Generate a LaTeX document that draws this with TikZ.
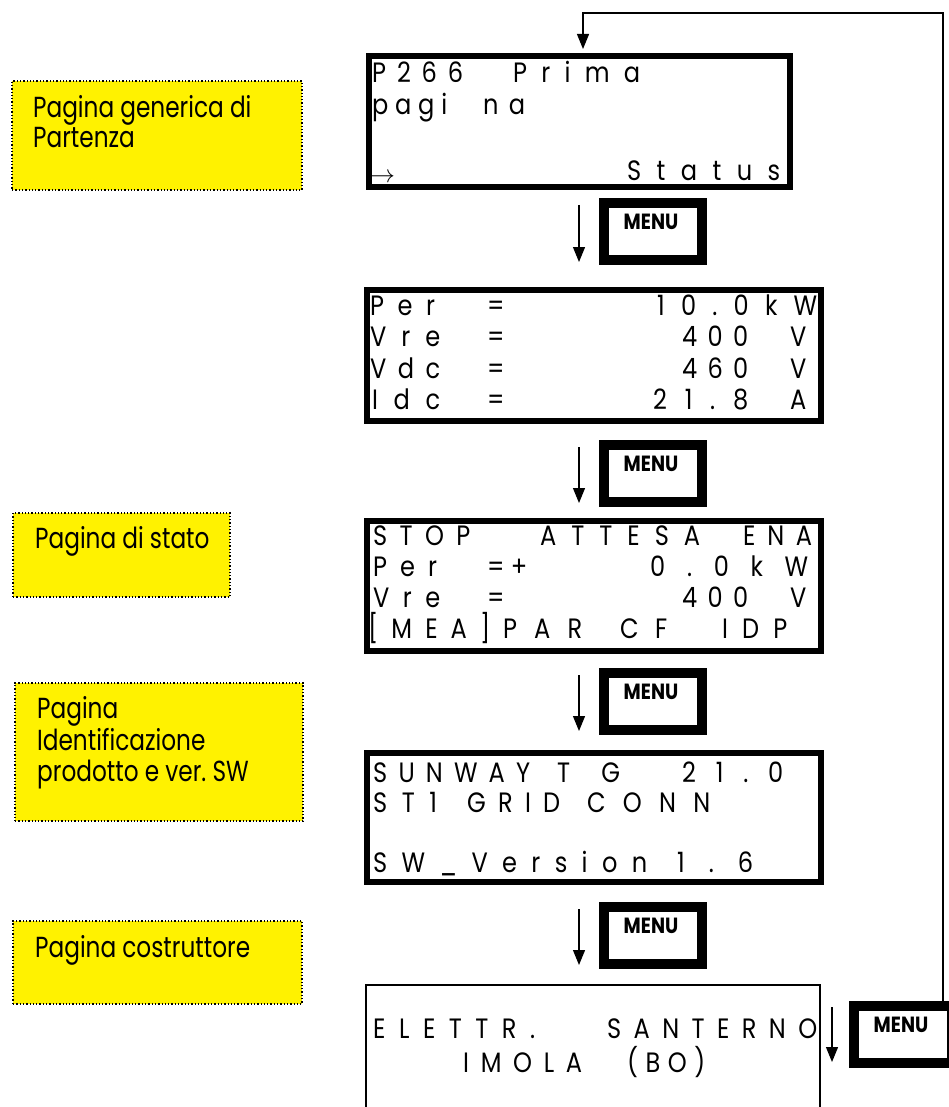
\documentclass[tikz,border=0pt]{standalone}
\usepackage{fontspec}
\setmainfont{Poppins}
\newfontfamily\notefont{Poppins}[FakeStretch=0.8]
\newfontfamily\lcdfont{Poppins}[FakeStretch=0.86]
\newfontfamily\menufont{Poppins}[FakeStretch=0.85]
\usetikzlibrary{arrows.meta}
\frenchspacing
\tikzset{
  lcdbox/.style={draw, line width=6pt, inner sep=0pt},
  lcdtext/.style={anchor=base west, inner sep=0pt, font=\lcdfont\frenchspacing\fontsize{28}{32}\selectfont},
  notebox/.style={draw, dotted, line width=1.3pt, fill=yellow, inner sep=0pt},
  notetext/.style={anchor=base west, inner sep=0pt, font=\notefont\fontsize{29}{32}\selectfont},
  menuouter/.style={draw, line width=10pt, fill=white, inner sep=0pt, minimum width=98pt, minimum height=57pt},
  menutext/.style={inner sep=0pt, font=\menufont\bfseries\fontsize{22}{24}\selectfont},
  flow/.style={line width=1.2pt, -{Triangle[length=15pt,width=12pt]}},
}
% name, start x, end x, baseline y, letters separated by spaces
\newcommand{\lcdw}[5]{\node[lcdtext] (#1) at (#2,#4) {\makebox[\dimexpr #3pt-#2pt\relax][s]{#5}};}
\newcommand{\menubtn}[3]{%
  \node[menuouter] (#1) at (#2,#3) {};
  \draw[line width=1pt] ([shift={(9,9)}]#1.north west) rectangle ([shift={(-9,-9)}]#1.south east);
  \node[menutext] (#1t) at ([shift={(-2,-9.5)}]#1.center) {MENU};
}
\begin{document}
\begin{tikzpicture}[x=1pt,y=-1pt]
\useasboundingbox (0,0) rectangle (948,1107);
\fill[white] (0,0) rectangle (948,1107);

% notes
\node[notebox, minimum width=290pt, minimum height=109pt] (n1) at (157,135.5) {};
\node[notetext] (n1a) at (33,118) {Pagina generica di};
\node[notetext] (n1b) at (33,148) {Partenza};
\node[notebox, minimum width=217pt, minimum height=84pt] (n2) at (121.5,555) {};
\node[notetext] (n2a) at (35,548) {Pagina di stato};
\node[notebox, minimum width=288pt, minimum height=138pt] (n3) at (159,752) {};
\node[notetext] (n3a) at (37,718) {Pagina};
\node[notetext] (n3b) at (37,750) {Identificazione};
\node[notetext] (n3c) at (37,781) {prodotto e ver. SW};
\node[notebox, minimum width=289pt, minimum height=83pt] (n4) at (157.5,962.5) {};
\node[notetext] (n4a) at (35,957) {Pagina costruttore};

% LCD boxes
\node[lcdbox, minimum width=421pt, minimum height=131pt] (s1) at (579.5,121.5) {};
\node[lcdbox, minimum width=454pt, minimum height=131pt] (s2) at (594,355.5) {};
\node[lcdbox, minimum width=454pt, minimum height=130pt] (s3) at (594,586) {};
\node[lcdbox, minimum width=454pt, minimum height=129pt] (s4) at (594,817.5) {};
\coordinate (s5a) at (366,1110);
\coordinate (s5b) at (366,985);
\coordinate (s5c) at (820,985);
\coordinate (s5d) at (820,1110);
\draw[line width=2pt] (s5a) -- (s5b) -- (s5c) -- (s5d);

% box 1 text
\lcdw{t11}{372}{463}{83}{P 2 6 6}
\lcdw{t12}{513}{640}{83}{P r i m a}
\lcdw{t13}{372}{447}{115}{p a g i}
\lcdw{t14}{483}{525}{115}{n a}
\node[anchor=base west, inner sep=0pt, font=\fontsize{28}{30}\selectfont] (t15) at (370,183) {$\rightarrow$};
\lcdw{t16}{627}{780}{181}{S t a t u s}

% box 2 text
\lcdw{t21}{370}{435}{315}{P e r}
\lcdw{t22}{487}{503}{315}{=}
\lcdw{t23}{657}{817}{315}{1 0 . 0 k W}
\lcdw{t24}{370}{440}{346.5}{V r e}
\lcdw{t25}{487}{503}{346.5}{=}
\lcdw{t26}{682}{748}{346.5}{4 0 0}
\lcdw{t27}{790}{812}{346.5}{V}
\lcdw{t28}{370}{440}{378}{V d c}
\lcdw{t29}{487}{503}{378}{=}
\lcdw{t2a}{682}{748}{378}{4 6 0}
\lcdw{t2b}{790}{812}{378}{V}
\lcdw{t2c}{372}{440}{409.5}{I d c}
\lcdw{t2d}{487}{503}{409.5}{=}
\lcdw{t2e}{653}{748}{409.5}{2 1 . 8}
\lcdw{t2f}{790}{813}{409.5}{A}

% box 3 text
\lcdw{t31}{373}{470}{545}{S T O P}
\lcdw{t32}{540}{700}{545}{A T T E S A}
\lcdw{t33}{743}{812}{545}{E N A}
\lcdw{t34}{373}{437}{576}{P e r}
\lcdw{t35}{487}{527}{576}{= +}
\lcdw{t36}{650}{808}{576}{0 . 0 k W}
\lcdw{t37}{373}{440}{607}{V r e}
\lcdw{t38}{487}{503}{607}{=}
\lcdw{t39}{682}{748}{607}{4 0 0}
\lcdw{t3a}{790}{810}{607}{V}
\lcdw{t3b}{368}{490}{638}{[ M E A ]}
\lcdw{t3c}{503}{582}{638}{P A R}
\lcdw{t3d}{620}{667}{638}{C F}
\lcdw{t3e}{722}{787}{638}{I D P}

% box 4 text
\lcdw{t41}{373}{530}{782}{S U N W A Y}
\lcdw{t42}{557}{620}{782}{T G}
\lcdw{t43}{682}{783}{782}{2 1 . 0}
\lcdw{t44}{373}{437}{812}{S T 1}
\lcdw{t45}{467}{560}{812}{G R I D}
\lcdw{t46}{587}{710}{812}{C O N N}
\lcdw{t47}{373}{647}{872}{S W \_ V e r s i o n}
\lcdw{t48}{677}{753}{872}{1 . 6}

% box 5 text
\lcdw{t51}{373}{535}{1038}{E L E T T R .}
\lcdw{t52}{607}{817}{1038}{S A N T E R N O}
\lcdw{t53}{463}{582}{1072}{I M O L A}
\lcdw{t54}{627}{705}{1072}{( B O )}

% MENU buttons
\menubtn{m1}{653}{231.5}
\menubtn{m2}{653}{473.5}
\menubtn{m3}{653}{701.5}
\menubtn{m4}{653}{935.5}
\menubtn{m5}{903}{1034}

% arrows
\coordinate (a1s) at (579,205); \coordinate (a1e) at (579,262);
\coordinate (a2s) at (579,447); \coordinate (a2e) at (579,503);
\coordinate (a3s) at (579,675); \coordinate (a3e) at (579,731);
\coordinate (a4s) at (579,909); \coordinate (a4e) at (579,965);
\coordinate (a5s) at (832,1007); \coordinate (a5e) at (832,1062);
\draw[flow] (a1s) -- (a1e);
\draw[flow] (a2s) -- (a2e);
\draw[flow] (a3s) -- (a3e);
\draw[flow] (a4s) -- (a4e);
\draw[flow] (a5s) -- (a5e);

% feedback loop
\coordinate (fbr) at (943,13);
\coordinate (fbl) at (583,13);
\draw[flow, shorten >=4pt] (fbr |- m5.north) -- (fbr) -- (fbl) -- (fbl |- s1.north);
\end{tikzpicture}
\end{document}
